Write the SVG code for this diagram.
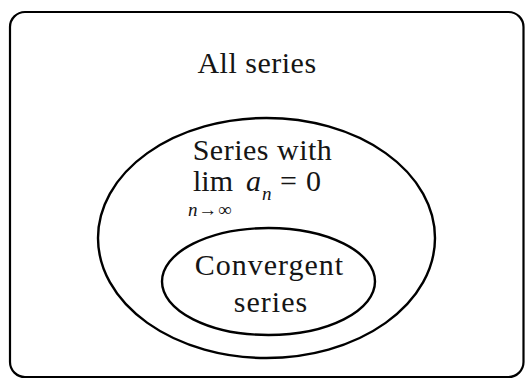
<svg xmlns="http://www.w3.org/2000/svg" width="525" height="379" viewBox="0 0 525 379">
<style>
.shape{fill:none;stroke:#000;}
.t{font-family:"Liberation Serif","Times New Roman",serif;font-size:30px;fill:#151515;text-anchor:middle;}
.m{font-family:"Liberation Serif","Times New Roman",serif;fill:#151515;}
</style>
<rect width="525" height="379" fill="#fff"/>
<g id="all-series">
<rect class="shape" x="10" y="12" width="513.5" height="365" rx="15" ry="15" stroke-width="2.2"/>
<text class="t" x="257" y="73" letter-spacing="0.5">All series</text>
</g>
<g id="limit-zero">
<ellipse class="shape" cx="266.5" cy="238" rx="168.5" ry="120" stroke-width="2.4"/>
<text class="t" x="262.5" y="159.5" letter-spacing="0.5">Series with</text>
<text class="m" x="193" y="191" font-size="30">lim</text>
<text class="m" x="246" y="191" font-size="30" font-style="italic">a</text>
<text class="m" x="262" y="200" font-size="19" font-style="italic">n</text>
<text class="m" x="280" y="191" font-size="30">=</text>
<text class="m" x="306" y="191" font-size="30">0</text>
<text class="m" x="188" y="215.5" font-size="19" letter-spacing="0.8"><tspan font-style="italic">n</tspan>→∞</text>
</g>
<g id="convergent">
<ellipse class="shape" cx="268.5" cy="281.5" rx="106.5" ry="53.5" stroke-width="2.4"/>
<text class="t" x="269.5" y="275" letter-spacing="1">Convergent</text>
<text class="t" x="271" y="311.5" letter-spacing="1">series</text>
</g>
<g id="connectors"></g>
</svg>
